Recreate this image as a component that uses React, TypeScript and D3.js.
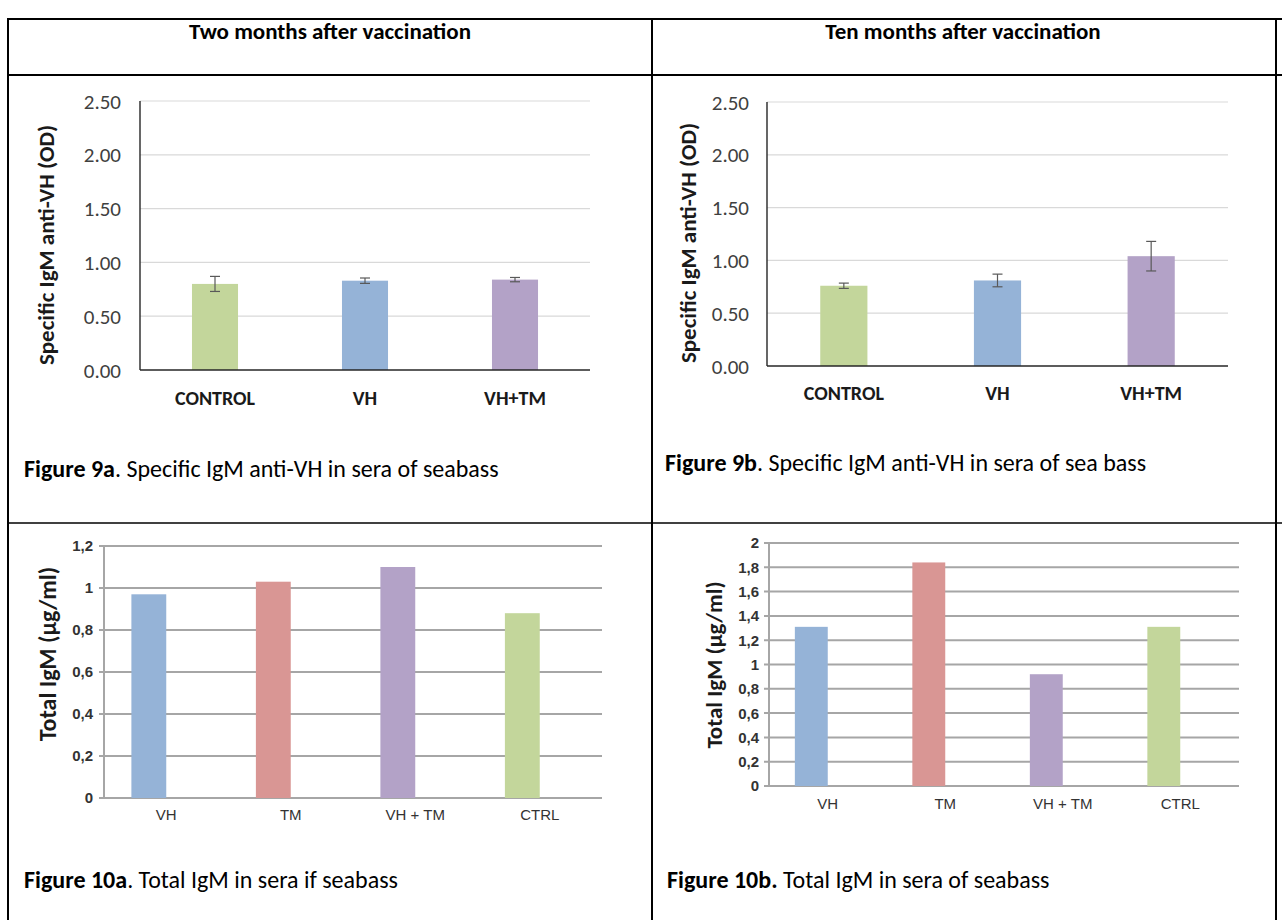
import React from "react";
import * as d3 from "d3";

// ---------- DATA ----------
const specCategories = ["CONTROL", "VH", "VH+TM"];
const spec2mValues = [0.8, 0.83, 0.84];
const spec2mErrors = [0.07, 0.025, 0.02];
const spec10mValues = [0.76, 0.81, 1.04];
const spec10mErrors = [0.025, 0.06, 0.14];
const specTicks = [0, 0.5, 1.0, 1.5, 2.0, 2.5];

const totalCategories = ["VH", "TM", "VH + TM", "CTRL"];
const total2mValues = [0.97, 1.03, 1.1, 0.88];
const total2mTicks = [0, 0.2, 0.4, 0.6, 0.8, 1.0, 1.2];
const total10mValues = [1.31, 1.84, 0.92, 1.31];
const total10mTicks = [0, 0.2, 0.4, 0.6, 0.8, 1.0, 1.2, 1.4, 1.6, 1.8, 2.0];

const headers = ["Two months after vaccination", "Ten months after vaccination"];

// ---------- STYLE ----------
const COLORS: Record<string, string> = {
  CONTROL: "#c3d69b",
  CTRL: "#c3d69b",
  VH: "#95b3d7",
  "VH+TM": "#b3a2c7",
  "VH + TM": "#b3a2c7",
  TM: "#d99694",
};
const CAL = "Carlito, Calibri, Lato, 'Open Sans', sans-serif";
const NARROW = "'Liberation Sans Narrow', 'Arial Narrow', 'Liberation Sans', Arial, sans-serif";

type SpecProps = {
  values: number[];
  errors: number[];
  x0: number;
  x1: number;
  yTop: number;
  yBottom: number;
  labelRight: number;
  titleX: number;
  titleY: number;
  xLabelY: number;
};

function SpecChart(p: SpecProps) {
  const y = d3.scaleLinear().domain([0, 2.5]).range([p.yBottom, p.yTop]);
  const x = d3
    .scaleBand<string>()
    .domain(specCategories)
    .range([p.x0, p.x1])
    .paddingInner(0.693)
    .paddingOuter(0.3465);
  const fmt = d3.format(".2f");
  return (
    <g>
      {specTicks.map((t) => (
        <g key={t}>
          {t > 0 && (
            <line x1={p.x0} x2={p.x1} y1={y(t)} y2={y(t)} stroke="#d9d9d9" strokeWidth={1.2} />
          )}
          <text
            x={p.labelRight}
            y={y(t)}
            dy="0.36em"
            textAnchor="end"
            fontFamily={CAL}
            fontSize={21}
            fill="#404040"
          >
            {fmt(t)}
          </text>
        </g>
      ))}
      {specCategories.map((c, i) => {
        const bx = x(c)!;
        const cx = bx + x.bandwidth() / 2;
        const v = p.values[i];
        const e = p.errors[i];
        return (
          <g key={c}>
            <rect x={bx} y={y(v)} width={x.bandwidth()} height={y(0) - y(v)} fill={COLORS[c]} />
            <line x1={cx} x2={cx} y1={y(v + e)} y2={y(v - e)} stroke="#595959" strokeWidth={1.2} />
            <line x1={cx - 5} x2={cx + 5} y1={y(v + e)} y2={y(v + e)} stroke="#595959" strokeWidth={1.2} />
            <line x1={cx - 5} x2={cx + 5} y1={y(v - e)} y2={y(v - e)} stroke="#595959" strokeWidth={1.2} />
            <text
              x={cx}
              y={p.xLabelY}
              dy="0.36em"
              textAnchor="middle"
              fontFamily={CAL}
              fontWeight="bold"
              fontSize={20}
              fill="#1a1a1a"
            >
              {c}
            </text>
          </g>
        );
      })}
      <line x1={p.x0} x2={p.x0} y1={p.yTop} y2={p.yBottom} stroke="#262626" strokeWidth={1.4} />
      <line x1={p.x0} x2={p.x1} y1={p.yBottom} y2={p.yBottom} stroke="#262626" strokeWidth={1.4} />
      <text
        transform={`translate(${p.titleX},${p.titleY}) rotate(-90)`}
        textAnchor="middle"
        dy="0.36em"
        fontFamily={CAL}
        fontWeight="bold"
        fontSize={23}
        fill="#1a1a1a"
      >
        Specific IgM anti-VH (OD)
      </text>
    </g>
  );
}

type TotalProps = {
  values: number[];
  ticks: number[];
  max: number;
  x0: number;
  x1: number;
  yTop: number;
  yBottom: number;
  labelRight: number;
  titleX: number;
  titleY: number;
  titleSize: number;
  xLabelY: number;
};

function TotalChart(p: TotalProps) {
  const y = d3.scaleLinear().domain([0, p.max]).range([p.yBottom, p.yTop]);
  const x = d3.scaleBand<string>().domain(totalCategories).range([p.x0, p.x1]);
  const barW = x.bandwidth() * 0.28;
  const fmt = (t: number) => d3.format("~g")(Math.round(t * 10) / 10).replace(".", ",");
  return (
    <g>
      {p.ticks.map((t) => (
        <g key={t}>
          <line x1={p.x0 - 5} x2={p.x1} y1={y(t)} y2={y(t)} stroke="#a6a6a6" strokeWidth={2} />
          <text
            x={p.labelRight}
            y={y(t)}
            dy="0.36em"
            textAnchor="end"
            fontFamily={NARROW}
            fontSize={15}
            fontWeight="bold"
            fill="#333333"
          >
            {fmt(t)}
          </text>
        </g>
      ))}
      <line x1={p.x0} x2={p.x0} y1={p.yTop} y2={p.yBottom} stroke="#a6a6a6" strokeWidth={2} />
      {totalCategories.map((c, i) => {
        const cx = x(c)! + x.bandwidth() / 2;
        const v = p.values[i];
        return (
          <g key={c}>
            <rect x={cx - barW} y={y(v)} width={barW} height={y(0) - y(v)} fill={COLORS[c]} />
            <text
              x={cx}
              y={p.xLabelY}
              dy="0.36em"
              textAnchor="middle"
              fontFamily={NARROW}
              fontSize={15}
              fill="#333333"
            >
              {c}
            </text>
          </g>
        );
      })}
      <text
        transform={`translate(${p.titleX},${p.titleY}) rotate(-90)`}
        textAnchor="middle"
        dy="0.36em"
        fontFamily={CAL}
        fontWeight="bold"
        fontSize={p.titleSize}
        fill="#1a1a1a"
      >
        Total IgM (µg/ml)
      </text>
    </g>
  );
}

function Caption({ x, y, bold, rest }: { x: number; y: number; bold: string; rest: string }) {
  return (
    <text x={x} y={y} fontFamily={CAL} fontSize={24} fill="#000">
      <tspan fontWeight="bold">{bold}</tspan>
      <tspan>{rest}</tspan>
    </text>
  );
}

export default function App() {
  return (
    <div style={{ position: "absolute", left: 0, top: 0 }}>
      <svg width={1282} height={920} style={{ display: "block", background: "#fff" }}>
        {/* table */}
        <line x1={7} x2={1282} y1={19} y2={19} stroke="#000" strokeWidth={2} />
        <line x1={8} x2={8} y1={18} y2={920} stroke="#000" strokeWidth={2} />
        <line x1={1276} x2={1276} y1={18} y2={920} stroke="#000" strokeWidth={2} />
        <line x1={652} x2={652} y1={18} y2={920} stroke="#000" strokeWidth={2} />
        <line x1={7} x2={1282} y1={75} y2={75} stroke="#000" strokeWidth={2} />
        <line x1={7} x2={1282} y1={523} y2={523} stroke="#000" strokeWidth={1.6} />

        <text x={330} y={39} textAnchor="middle" fontFamily={CAL} fontWeight="bold" fontSize={23}>
          {headers[0]}
        </text>
        <text x={963} y={39} textAnchor="middle" fontFamily={CAL} fontWeight="bold" fontSize={23}>
          {headers[1]}
        </text>

        <SpecChart
          values={spec2mValues}
          errors={spec2mErrors}
          x0={140}
          x1={590}
          yTop={101}
          yBottom={370}
          labelRight={121}
          titleX={46}
          titleY={245}
          xLabelY={398}
        />
        <SpecChart
          values={spec10mValues}
          errors={spec10mErrors}
          x0={767}
          x1={1228}
          yTop={102}
          yBottom={366}
          labelRight={749}
          titleX={688}
          titleY={243}
          xLabelY={393}
        />

        <Caption x={24} y={477} bold="Figure 9a" rest=". Specific IgM anti-VH in sera of seabass" />
        <Caption x={665} y={471} bold="Figure 9b" rest=". Specific IgM anti-VH in sera of sea bass" />

        <TotalChart
          values={total2mValues}
          ticks={total2mTicks}
          max={1.2}
          x0={104}
          x1={602}
          yTop={546}
          yBottom={798}
          labelRight={93}
          titleX={47}
          titleY={654}
          titleSize={24}
          xLabelY={815}
        />
        <TotalChart
          values={total10mValues}
          ticks={total10mTicks}
          max={2}
          x0={769}
          x1={1239}
          yTop={543}
          yBottom={786}
          labelRight={759}
          titleX={714}
          titleY={665}
          titleSize={23}
          xLabelY={804}
        />

        <Caption x={24} y={888} bold="Figure 10a" rest=". Total IgM in sera if seabass" />
        <Caption x={667} y={888} bold="Figure 10b." rest=" Total IgM in sera of seabass" />
      </svg>
    </div>
  );
}
